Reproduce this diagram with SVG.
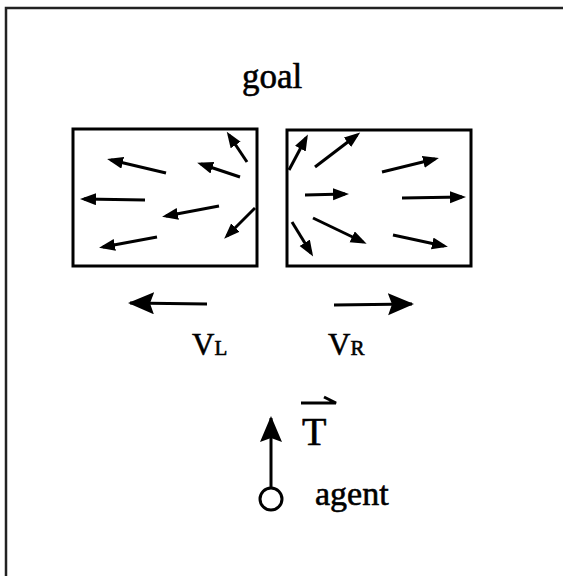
<svg xmlns="http://www.w3.org/2000/svg" width="563" height="576" viewBox="0 0 563 576">
<style>
.frame{fill:none;stroke:#222;stroke-width:2.5}
.box{fill:none;stroke:#000;stroke-width:3}
.v{stroke:#000;stroke-width:3;fill:none;marker-end:url(#ah)}
.big{stroke:#000;stroke-width:3;fill:none;marker-end:url(#bh)}
.t{font-family:"Liberation Serif","Times New Roman",serif;fill:#000;stroke:#000;stroke-width:0.6}
</style>
<defs>
<marker id="ah" markerUnits="userSpaceOnUse" markerWidth="18" markerHeight="14" refX="12" refY="6" orient="auto">
<path d="M0,0 L16,6 L0,12 z" fill="#000"/>
</marker>
<marker id="bh" markerUnits="userSpaceOnUse" markerWidth="30" markerHeight="26" refX="24" refY="11" orient="auto">
<path d="M0,0 L26,11 L0,22 L4,11 z" fill="#000"/>
</marker>
</defs>
<rect width="563" height="576" fill="#fff"/>
<path class="frame" d="M6,576 V8 H563"/>
<text class="t" x="242" y="88" font-size="35">goal</text>
<g id="left-box">
<rect class="box" x="73" y="129" width="184" height="137"/>
</g>
<g id="right-box">
<rect class="box" x="287" y="130" width="184" height="136"/>
</g>
<g id="connectors">
<line class="v" x1="247" y1="162" x2="229" y2="135"/>
<line class="v" x1="166" y1="173" x2="111" y2="160"/>
<line class="v" x1="240" y1="177" x2="201" y2="164"/>
<line class="v" x1="145" y1="200" x2="84" y2="199"/>
<line class="v" x1="219" y1="206" x2="166" y2="216"/>
<line class="v" x1="255" y1="208" x2="227" y2="236"/>
<line class="v" x1="157" y1="237" x2="103" y2="247"/>
<line class="v" x1="289" y1="170" x2="306" y2="138"/>
<line class="v" x1="315" y1="167" x2="357" y2="135"/>
<line class="v" x1="382" y1="172" x2="435" y2="159"/>
<line class="v" x1="305" y1="195" x2="345" y2="194"/>
<line class="v" x1="402" y1="198" x2="462" y2="197"/>
<line class="v" x1="292" y1="222" x2="311" y2="253"/>
<line class="v" x1="313" y1="218" x2="363" y2="242"/>
<line class="v" x1="393" y1="235" x2="444" y2="246"/>
<line class="big" x1="207" y1="304" x2="130" y2="303"/>
<line class="big" x1="334" y1="305" x2="412" y2="304"/>
<line class="big" x1="271" y1="488" x2="271" y2="418"/>
</g>
<g id="vl">
<text class="t" x="192" y="355" font-size="31">V<tspan font-size="21">L</tspan></text>
</g>
<g id="vr">
<text class="t" x="328" y="355" font-size="31">V<tspan font-size="21">R</tspan></text>
</g>
<g id="t-label">
<text class="t" x="302" y="445" font-size="40">T</text>
<path d="M301,403 H336 L324,397" fill="none" stroke="#000" stroke-width="3"/>
</g>
<g id="agent">
<circle cx="271" cy="499" r="11" fill="#fff" stroke="#000" stroke-width="3"/>
<text class="t" x="315" y="505" font-size="34">agent</text>
</g>
</svg>
